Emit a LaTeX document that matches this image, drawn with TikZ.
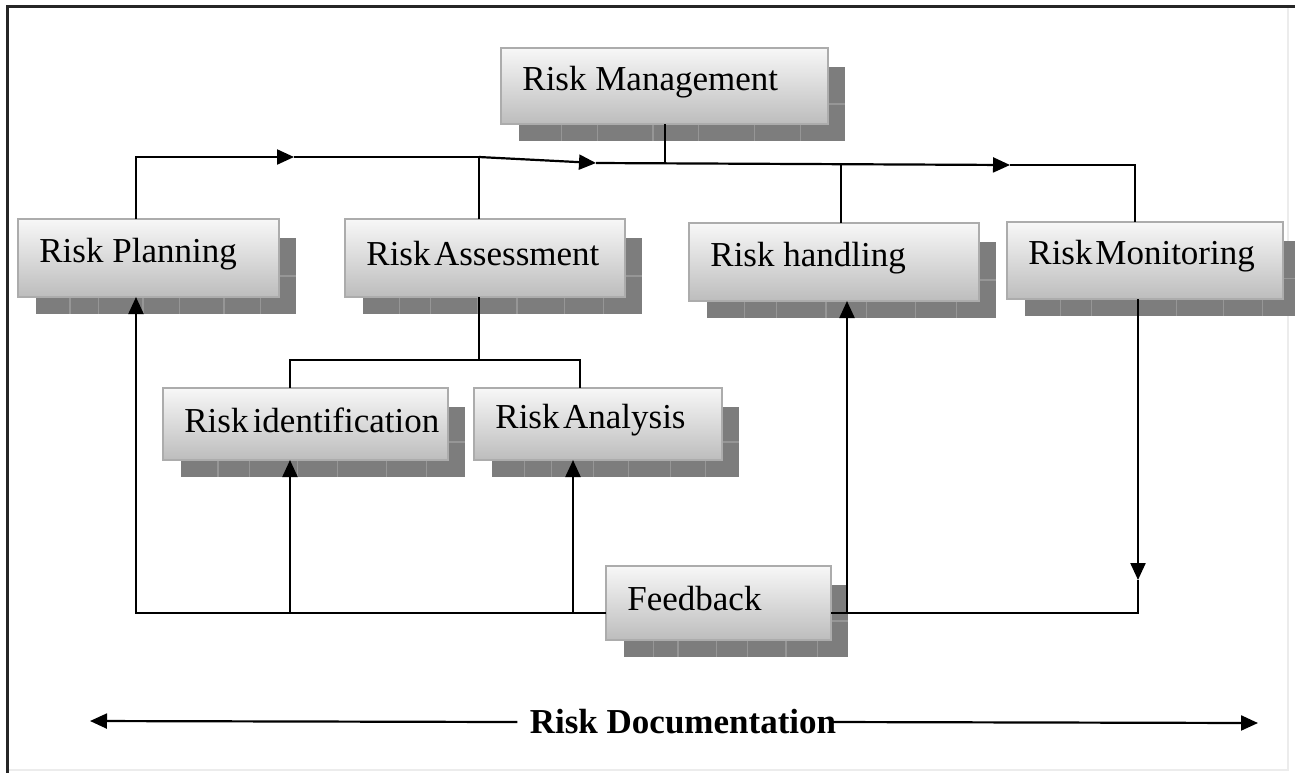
\documentclass[tikz,border=0pt]{standalone}
\usepackage{fontspec}
\setmainfont{Liberation Serif}
\usetikzlibrary{arrows.meta}
\definecolor{shadowc}{RGB}{125,125,125}
\definecolor{tickc}{RGB}{150,150,150}
\newcommand\rbox[6]{%
  \fill[shadowc] (#2+18,#3+19) rectangle (#4+17,#5+17);
  \foreach \fr in {0.13,0.24,0.41,0.55,0.72,0.86}
    \draw[tickc, line width=0.6pt] ({#2+18+\fr*(#4-#2)},#5+1) -- ({#2+18+\fr*(#4-#2)},#5+17);
  \draw[tickc, line width=0.6pt] (#4+1,{(#3+#5+36)/2}) -- (#4+17,{(#3+#5+36)/2});
  \node[boxst, minimum width={(#4-#2)*0.5pt}, minimum height={(#5-#3)*0.5pt}] (#1) at ({(#2+#4)/2},{(#3+#5)/2}) {};
  \node[lab, anchor=west] (#1-l) at (#2+21,{(#3+#5)/2-4}) {#6};
}
\begin{document}
\begin{tikzpicture}[x=0.5pt, y=-0.5pt,
  boxst/.style={draw=gray!65, line width=0.6pt, top color=gray!6, bottom color=gray!52, inner sep=0pt, outer sep=0pt},
  lab/.style={inner sep=0pt, font=\fontsize{17.5}{20}\selectfont},
  conn/.style={line width=1.1pt, black},
  tip/.style={-{Triangle[length=8.5pt,width=7.5pt]}}]
\useasboundingbox (0,0) rectangle (1295,773);
% frame
\draw[gray!15, line width=0.8pt] (1288,6) -- (1288,770) -- (7,770);
\draw[black!85, line width=1.5pt] (1295,6) -- (7,6) -- (7,773);

% boxes
\rbox{rm}{501}{48}{828}{124}{Risk Management}
\rbox{rp}{18}{219}{279}{297}{Risk Planning}
\rbox{ra}{345}{219}{625}{297}{\spaceskip=0.1em Risk Assessment}
\rbox{rh}{689}{223}{979}{301}{Risk handling}
\rbox{rmo}{1007}{222}{1283}{299}{\spaceskip=0.08em Risk Monitoring}
\rbox{ri}{163}{388}{448}{460}{\spaceskip=0.12em Risk identification}
\rbox{ran}{474}{388}{722}{460}{\spaceskip=0.1em Risk Analysis}
\rbox{fb}{606}{566}{831}{640}{Feedback}

% top distribution line
\coordinate (jP) at (136,157);
\coordinate (a1) at (294,157);
\coordinate (jA) at (479,157);
\coordinate (a2) at (596,163);
\coordinate (jM) at (665,164);
\coordinate (jH) at (841,164);
\coordinate (a3) at (1010,165);
\coordinate (jMo) at (1135,165);
\draw[conn, tip] (rp.north -| jP) -- (jP) -- (a1);
\draw[conn] (a1) -- (jA);
\draw[conn, tip] (jA) -- (a2);
\draw[conn, tip] (a2) -- (a3);
\draw[conn] (a3) -- (jMo) -- (rmo.north -| jMo);
\draw[conn] (ra.north -| jA) -- (jA);
\draw[conn] (rm.south -| jM) -- (jM);
\draw[conn] (rh.north -| jH) -- (jH);

% assessment sub-tree
\coordinate (jA2) at (479,360);
\coordinate (jI) at (290,360);
\coordinate (jAn) at (580,360);
\draw[conn] (ra.south -| jA2) -- (jA2);
\draw[conn] (ri.north -| jI) -- (jI) -- (jAn) -- (ran.north -| jAn);

% feedback loop
\coordinate (b1) at (136,613);
\coordinate (b2) at (290,613);
\coordinate (b3) at (573,613);
\coordinate (c1) at (1138,580);
\coordinate (c2) at (1138,613);
\coordinate (c3) at (847,613);
\draw[conn, tip] (fb.west |- b1) -- (b1) -- (rp.south -| b1);
\draw[conn, tip] (b2) -- (ri.south -| b2);
\draw[conn, tip] (b3) -- (ran.south -| b3);
\draw[conn, tip] (rmo.south -| c1) -- (c1);
\draw[conn] (c1) -- (c2) -- (fb.east |- c2);
\draw[conn, tip] (c3) -- (rh.south -| c3);

% documentation
\node[inner sep=0pt, font=\fontsize{17.5}{20}\selectfont\bfseries] (doc) at (683,722) {Risk Documentation};
\coordinate (dL) at (90,721);
\coordinate (dR) at (1258,723);
\draw[conn, tip] ([xshift=-6pt]doc.west) -- (dL);
\draw[conn, tip] ([xshift=-3pt]doc.east) -- (dR);
\end{tikzpicture}
\end{document}
